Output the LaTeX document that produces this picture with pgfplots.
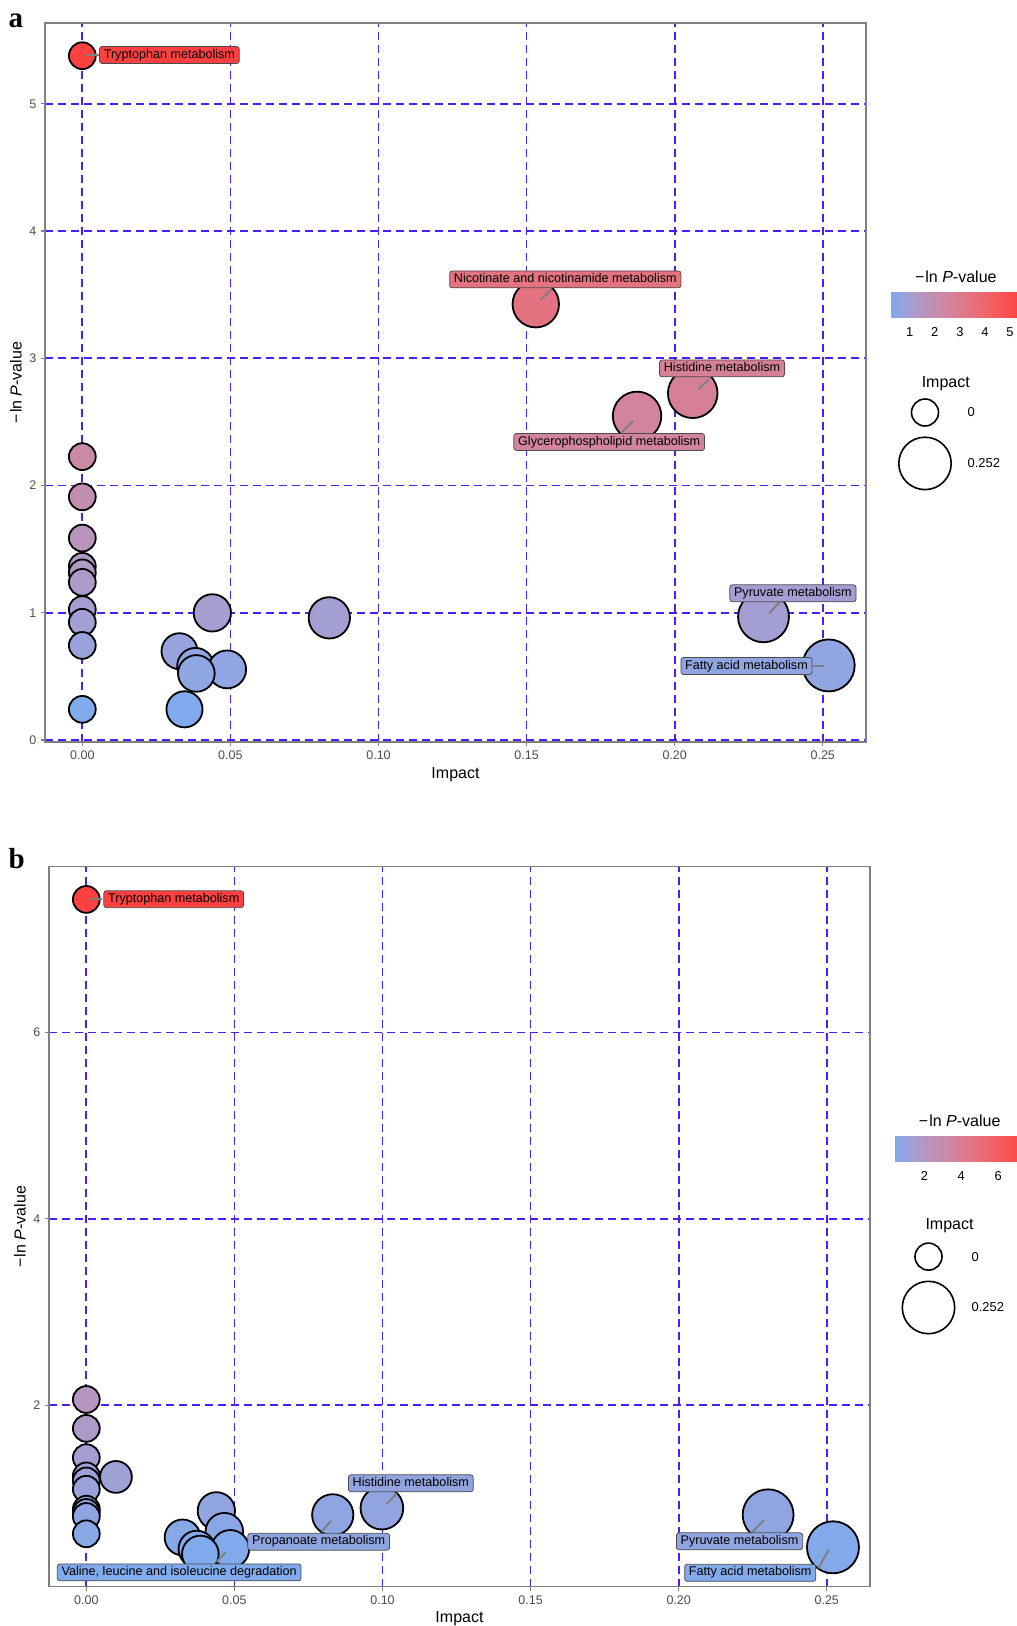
\documentclass[border=0pt]{standalone}
\usepackage{fontspec}
\setmainfont{Liberation Sans}
\newfontfamily\seriffont{Liberation Serif}
\usepackage{pgfplots}
\pgfplotsset{compat=1.18}
\definecolor{gridblue}{RGB}{70,30,255}
\definecolor{framegray}{RGB}{128,128,128}
\definecolor{segray}{RGB}{128,128,128}
\definecolor{labA1}{RGB}{255,64,64}
\definecolor{labA2}{RGB}{228,115,128}
\definecolor{labA3}{RGB}{214,128,151}
\definecolor{labA4}{RGB}{210,131,157}
\definecolor{labA5}{RGB}{163,159,210}
\definecolor{labA6}{RGB}{145,165,224}
\definecolor{labB2}{RGB}{129,170,236}
\definecolor{labB3}{RGB}{143,165,225}
\definecolor{labB4}{RGB}{146,164,223}
\definecolor{labB5}{RGB}{143,165,225}
\definecolor{labB6}{RGB}{130,169,234}
\pgfplotsset{
  colormap={labmap}{rgb255=(128,170,236) rgb255=(160,160,213) rgb255=(183,149,191) rgb255=(201,138,169) rgb255=(216,127,148) rgb255=(228,114,127) rgb255=(239,100,106) rgb255=(248,84,85) rgb255=(255,64,64)},
  bubble/.style={
    scale only axis, width=821pt, anchor=south west, clip=false,
    xmin=-0.0126, xmax=0.2646,
    xtick={0,0.05,0.1,0.15,0.2,0.25},
    grid=major,
    major grid style={draw=gridblue, line width=1.8pt, dash pattern=on 8pt off 5pt},
    axis line style={draw=framegray, line width=1.1pt},
    tick pos=left, tick align=outside, major tick length=4pt,
    every tick/.style={draw=framegray, line width=1.1pt},
    ticklabel style={font=\fontsize{12.5}{14}\selectfont, text=black!70, inner sep=4.5pt},
    /pgf/number format/assume math mode=true,
    xticklabel style={/pgf/number format/.cd, fixed, fixed zerofill, precision=2},
    colormap name=labmap,
  },
  cbar/.style={
    scale only axis, height=25pt, anchor=south west,
    ymin=0, ymax=1, colormap name=labmap,
    xtick align=inside, major tick length=5pt,
    every tick/.style={draw=white, line width=0.8pt},
    xtick pos=both, ytick=\empty,
    axis line style={draw=none},
    /pgf/number format/assume math mode=true,
    xticklabel pos=left,
    xticklabel style={font=\fontsize{12.9}{14}\selectfont, text=black, inner sep=0pt, yshift=-10.4pt},
  },
  bubbleplot/.style={
    scatter, only marks, mark=*, point meta=\thisrow{y},
    scatter/use mapped color={draw=black, fill=mapped color},
    mark options={line width=1.8pt},
    visualization depends on={value \thisrow{x} \as \imp},
    scatter/@pre marker code/.append style={/tikz/mark size={13.4+12.6*sqrt(\imp/0.252)}, /tikz/line width=1.8pt},
  },
}
\tikzset{
  rl/.style={rounded corners=2.5pt, draw=black!70, line width=0.75pt, text=black,
    font=\fontsize{12.6}{15}\selectfont, inner xsep=4.3pt, inner ysep=2.6pt,
    text height=9pt, text depth=2.7pt},
  seg/.style={draw=segray, line width=2pt},
  axt/.style={font=\fontsize{16}{18}\selectfont, text=black},
  legt/.style={font=\fontsize{12.9}{14}\selectfont, text=black},
}
\begin{document}
\begin{tikzpicture}
\useasboundingbox (0,0) rectangle (1017pt,-1626pt);

% ---------------- Panel a ----------------
\begin{axis}[bubble, at={(45pt,-742pt)}, height=719pt,
  ymin=-0.0159, ymax=5.635, ytick={0,1,2,3,4,5},
  point meta min=0.241, point meta max=5.378,
]
\addplot[bubbleplot] table {
x y
0.0000 5.378
0.1531 3.425
0.2061 2.725
0.1873 2.547
0.0000 2.227
0.0000 1.911
0.0000 1.587
0.0000 1.365
0.0000 1.313
0.0000 1.239
0.0000 1.025
0.0439 0.999
0.2300 0.968
0.0834 0.960
0.0000 0.925
0.0000 0.743
0.0328 0.698
0.2520 0.586
0.0382 0.580
0.0489 0.555
0.0385 0.523
0.0000 0.241
0.0345 0.241
};
\end{axis}

% colourbar a
\begin{axis}[cbar, at={(890.7pt,-317pt)}, width=128.8pt,
  xmin=0.241, xmax=5.378, xtick={1,2,3,4,5},
  point meta min=0.241, point meta max=5.378]
\addplot[surf, shader=interp, mesh/rows=2, point meta=x] coordinates {
(0.241,0) (0.883,0) (1.525,0) (2.167,0) (2.809,0) (3.452,0) (4.094,0) (4.736,0) (5.378,0)
(0.241,1) (0.883,1) (1.525,1) (2.167,1) (2.809,1) (3.452,1) (4.094,1) (4.736,1) (5.378,1)
};
\end{axis}

% segments a
\draw[seg] (86.3pt,-55pt) -- (98.7pt,-55pt);
\draw[seg] (540.7pt,-300pt) -- (551.7pt,-289pt);
\draw[seg] (698.3pt,-389.3pt) -- (709.3pt,-379pt);
\draw[seg] (622.3pt,-431.7pt) -- (633.3pt,-420.7pt);
\draw[seg] (769.3pt,-613.3pt) -- (780pt,-601.7pt);
\draw[seg] (813.3pt,-666pt) -- (824.3pt,-666pt);
% labels a
\node[rl, fill=labA1] at (169.4pt,-55pt) {Tryptophan metabolism};
\node[rl, fill=labA2] at (565.3pt,-279.4pt) {Nicotinate and nicotinamide metabolism};
\node[rl, fill=labA3] at (722pt,-368.4pt) {Histidine metabolism};
\node[rl, fill=labA4] at (609.2pt,-442pt) {Glycerophospholipid metabolism};
\node[rl, fill=labA5] at (792.9pt,-593.3pt) {Pyruvate metabolism};
\node[rl, fill=labA6] at (746.5pt,-666pt) {Fatty acid metabolism};

% axis titles a
\node[axt, anchor=base] at (455.5pt,-778.2pt) {Impact};
\node[axt, rotate=90] at (15.9pt,-382.5pt) {−\kern1pt ln \textit{P}-value};
\node[font=\seriffont\bfseries\fontsize{29}{30}\selectfont, anchor=base west, inner sep=0pt] at (8.5pt,-27.3pt) {a};

% legend a
\node[axt, anchor=base] at (955.8pt,-282.2pt) {−\kern1pt ln \textit{P}-value};
\node[axt, anchor=base] at (945.8pt,-387.5pt) {Impact};
\draw[black, line width=1.6pt] (925pt,-412.5pt) circle (13.5pt);
\draw[black, line width=1.6pt] (925pt,-463.4pt) circle (26.2pt);
\node[legt, anchor=west, inner sep=0pt] at (967.5pt,-412.5pt) {0};
\node[legt, anchor=west, inner sep=0pt] at (967.5pt,-463.4pt) {0.252};

% ---------------- Panel b ----------------
\begin{axis}[bubble, at={(49pt,-1586.7pt)}, height=720pt,
  ymin=0.052, ymax=7.778, ytick={2,4,6},
  point meta min=0.403, point meta max=7.427,
]
\addplot[bubbleplot] table {
x y
0.0000 7.427
0.0000 2.061
0.0000 1.751
0.0000 1.437
0.0000 1.241
0.0100 1.230
0.0000 1.187
0.0000 1.098
0.0998 0.895
0.0000 0.884
0.0439 0.866
0.0000 0.849
0.2302 0.824
0.0832 0.823
0.0000 0.806
0.0466 0.642
0.0000 0.620
0.0325 0.581
0.2521 0.475
0.0373 0.457
0.0486 0.457
0.0385 0.403
};
\end{axis}

% colourbar b
\begin{axis}[cbar, at={(894.8pt,-1161pt)}, width=129.9pt,
  xmin=0.403, xmax=7.427, xtick={2,4,6},
  point meta min=0.403, point meta max=7.427]
\addplot[surf, shader=interp, mesh/rows=2, point meta=x] coordinates {
(0.403,0) (1.281,0) (2.159,0) (3.037,0) (3.915,0) (4.793,0) (5.671,0) (6.549,0) (7.427,0)
(0.403,1) (1.281,1) (2.159,1) (3.037,1) (3.915,1) (4.793,1) (5.671,1) (6.549,1) (7.427,1)
};
\end{axis}

% segments b
\draw[seg] (90pt,-898.7pt) -- (102.3pt,-898.7pt);
\draw[seg] (216.7pt,-1561.7pt) -- (225.7pt,-1552.3pt);
\draw[seg] (321.7pt,-1531.7pt) -- (331pt,-1520.7pt);
\draw[seg] (386.7pt,-1504pt) -- (396.7pt,-1493.3pt);
\draw[seg] (752.7pt,-1531.7pt) -- (764pt,-1520pt);
\draw[seg] (818.3pt,-1568.3pt) -- (828.7pt,-1550pt);
% labels b
\node[rl, fill=labA1] at (173.7pt,-899.2pt) {Tryptophan metabolism};
\node[rl, fill=labB2] at (179.2pt,-1572.4pt) {Valine, leucine and isoleucine degradation};
\node[rl, fill=labB3] at (318.7pt,-1541.7pt) {Propanoate metabolism};
\node[rl, fill=labB4] at (410.8pt,-1483.3pt) {Histidine metabolism};
\node[rl, fill=labB5] at (739.5pt,-1541.3pt) {Pyruvate metabolism};
\node[rl, fill=labB6] at (750.2pt,-1572.8pt) {Fatty acid metabolism};

% axis titles b
\node[axt, anchor=base] at (459.5pt,-1622pt) {Impact};
\node[axt, rotate=90] at (19.9pt,-1226.7pt) {−\kern1pt ln \textit{P}-value};
\node[font=\seriffont\bfseries\fontsize{29}{30}\selectfont, anchor=base west, inner sep=0pt] at (8.5pt,-868.3pt) {b};

% legend b
\node[axt, anchor=base] at (959.7pt,-1126.3pt) {−\kern1pt ln \textit{P}-value};
\node[axt, anchor=base] at (949.5pt,-1229.8pt) {Impact};
\draw[black, line width=1.6pt] (928.5pt,-1256.6pt) circle (13.5pt);
\draw[black, line width=1.6pt] (928.5pt,-1307.5pt) circle (26.2pt);
\node[legt, anchor=west, inner sep=0pt] at (971.5pt,-1256.6pt) {0};
\node[legt, anchor=west, inner sep=0pt] at (971.5pt,-1307.5pt) {0.252};
\end{tikzpicture}
\end{document}
